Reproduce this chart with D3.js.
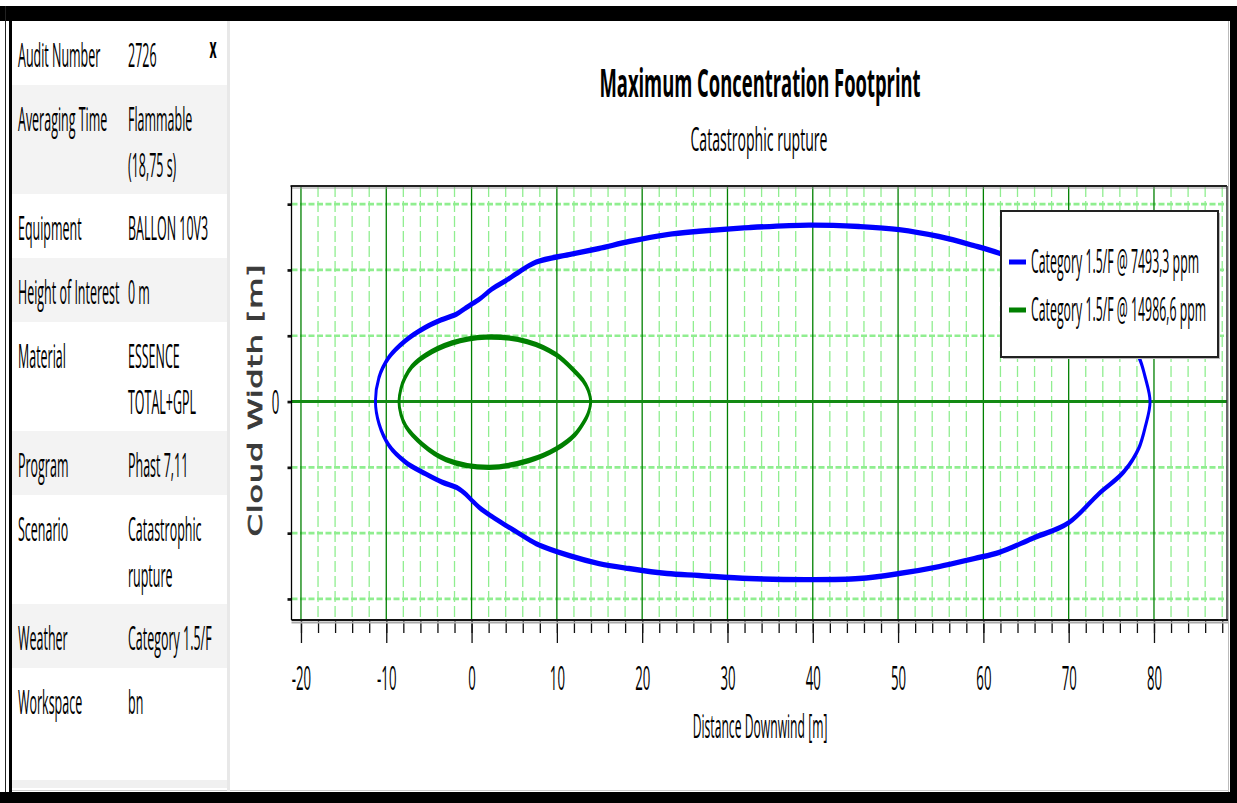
<!DOCTYPE html>
<html>
<head>
<meta charset="utf-8">
<script src="https://cdn.jsdelivr.net/npm/d3@7"></script>
<style>
  html, body { margin: 0; padding: 0; background: #fff; }
  svg { display: block; }
</style>
</head>
<body>
<svg id="chart" width="1237" height="803"></svg>
<script>
// ---- info panel ----
const panelLabels = ["Audit Number", "Averaging Time", "Equipment", "Height of Interest",
                     "Material", "Program", "Scenario", "Weather", "Workspace"];
const panelValues = [["2726"], ["Flammable", "(18,75 s)"], ["BALLON 10V3"], ["0 m"],
                     ["ESSENCE", "TOTAL+GPL"], ["Phast 7,11"], ["Catastrophic", "rupture"],
                     ["Category 1.5/F"], ["bn"]];

// ---- chart texts ----
const chartTitle = "Maximum Concentration Footprint";
const chartSubtitle = "Catastrophic rupture";
const xTitle = "Distance Downwind [m]";
const yTitle = "Cloud Width [m]";
const seriesNames = ["Category 1.5/F @ 7493,3 ppm", "Category 1.5/F @ 14986,6 ppm"];
const seriesColors = ["#0000ff", "#008000"];

// ---- ticks ----
const xMajorTicks = [-20, -10, 0, 10, 20, 30, 40, 50, 60, 70, 80];
const xMinorTicks = d3.range(-20, 89, 2);
const yTicks = [-15, -10, -5, 0, 5, 10, 15];

// ---- footprint 7493,3 ppm: downwind distance, upper and lower cloud edge [m] ----
const blueX = [-11.27, -10.86, -9.68, -7.73, -5.46, -3.47, -1.71, -0.77, 0.05, 0.87,
               2.39, 4.03, 5.21, 7.55, 11.42, 14.94, 18.45, 22.91, 26.66, 32.52,
               39.55, 45.41, 50.11, 54.80, 58.90, 61.83, 65.70, 70.04, 73.56, 76.49,
               78.25, 78.97, 79.54];
const blueUpper = [0, 1.82, 3.37, 4.64, 5.62, 6.23, 6.66, 7.07, 7.42, 7.75,
                   8.56, 9.19, 9.70, 10.59, 11.17, 11.63, 12.16, 12.69, 12.94, 13.22,
                   13.41, 13.30, 13.07, 12.54, 11.85, 11.28, 10.26, 9.04, 6.84, 5.02,
                   3.35, 1.85, 0];
const blueLower = [0, -1.67, -3.34, -4.61, -5.47, -6.12, -6.54, -6.99, -7.52, -8.03,
                   -8.74, -9.42, -9.88, -10.79, -11.70, -12.31, -12.69, -13.07, -13.22, -13.45,
                   -13.53, -13.45, -13.07, -12.54, -11.93, -11.47, -10.41, -9.19, -6.99, -5.32,
                   -3.50, -1.95, 0];

// ---- footprint 14986,6 ppm: outline points, clockwise from the upwind tip [m] ----
const greenX = [-8.51, -8.28, -7.81, -6.99, -5.35, -2.30, 1.69, 6.49, 9.89, 12.12,
                13.06, 13.65, 13.96, 13.65, 13.06, 12.12, 9.89, 6.73, 2.04, -3.00,
                -5.81, -7.69, -8.28];
const greenY = [0, 0.99, 1.82, 2.66, 3.53, 4.45, 4.90, 4.56, 3.57, 2.28,
                1.60, 0.91, 0, -0.95, -1.67, -2.51, -3.61, -4.48, -5.00, -4.41,
                -3.23, -1.90, -0.99];

// ---- look ----
const FONT = '"Open Sans", "Noto Sans", sans-serif';
const SX = 0.39;          // narrow text rendering
const STRETCH = 1.85;     // curve pen is taller than it is wide

const svg = d3.select("#chart");
const W = 1237, H = 803;

function label(parent, str, x, y, size, opts = {}) {
  return parent.append("text")
    .attr("transform", `translate(${x},${y}) scale(${opts.sx || SX},1)`)
    .attr("text-anchor", opts.anchor || "start")
    .attr("font-family", FONT)
    .attr("font-size", size)
    .attr("font-weight", opts.weight || "normal")
    .attr("fill", opts.fill || "#000")
    .text(str);
}

// ---- window frame ----
svg.append("rect").attr("width", W).attr("height", H).attr("fill", "#fff");
svg.append("rect").attr("x", 0).attr("y", 6).attr("width", W).attr("height", 15).attr("fill", "#000");
svg.append("rect").attr("x", 9).attr("y", 6).attr("width", 3).attr("height", H - 6).attr("fill", "#000");
svg.append("line").attr("x1", 5.5).attr("x2", 5.5).attr("y1", 6).attr("y2", H).attr("stroke", "#222");
svg.append("rect").attr("x", 0).attr("y", 792).attr("width", W).attr("height", 11).attr("fill", "#000");
svg.append("rect").attr("x", 1230).attr("y", 6).attr("width", 7).attr("height", H - 6).attr("fill", "#000");
svg.append("line").attr("x1", 1228.5).attr("x2", 1228.5).attr("y1", 21).attr("y2", 792).attr("stroke", "#bbb");
svg.append("line").attr("x1", 12).attr("x2", 1229).attr("y1", 790.5).attr("y2", 790.5).attr("stroke", "#ccc");

// ---- info panel ----
const panel = svg.append("g");
const panelLeft = 12, panelRight = 227, panelTop = 21, panelBottom = 788;
let rowTop = panelTop;
panelLabels.forEach((lab, i) => {
  const lines = panelValues[i];
  const last = i === panelLabels.length - 1;
  const h = last ? 780 - rowTop : 19 + 45 * lines.length;
  panel.append("rect").attr("x", panelLeft).attr("y", rowTop)
    .attr("width", panelRight - panelLeft).attr("height", h)
    .attr("fill", i % 2 === 1 ? "#f3f3f3" : "#fff");
  label(panel, lab, 18, rowTop + 46, 32);
  lines.forEach((ln, j) => label(panel, ln, 128, rowTop + 46 + 46 * j, 32));
  rowTop += h;
});
panel.append("rect").attr("x", panelLeft).attr("y", 780).attr("width", panelRight - panelLeft)
  .attr("height", panelBottom - 780).attr("fill", "#f0f0f0");
panel.append("rect").attr("x", 227).attr("y", 21).attr("width", 3).attr("height", 770).attr("fill", "#e8e8e8");
label(panel, "x", 213, 58, 28, { anchor: "middle", weight: "bold", sx: 0.44 });

// ---- plot ----
const plot = { left: 291.5, right: 1227, top: 186, bottom: 620 };
const x = d3.scaleLinear().domain([-21.11, 88.56]).range([plot.left, plot.right]);
const y = d3.scaleLinear().domain([-16.6, 16.38]).range([plot.bottom, plot.top]);

label(svg, chartTitle, 760, 97, 40, { anchor: "middle", weight: "bold", sx: 0.46 });
label(svg, chartSubtitle, 759, 151, 32, { anchor: "middle", sx: 0.44 });
label(svg, xTitle, 760, 738, 32, { anchor: "middle", sx: 0.38 });

svg.append("text")
  .attr("transform", `translate(255,400) rotate(-90) scale(1.6,1)`)
  .attr("text-anchor", "middle").attr("dy", "0.36em")
  .attr("font-family", '"DejaVu Sans", sans-serif').attr("font-size", 20)
  .attr("fill", "#3a3a3a").attr("stroke", "#3a3a3a").attr("stroke-width", 0.7)
  .attr("letter-spacing", 0.5)
  .text(yTitle);

// grid
const grid = svg.append("g");
grid.selectAll("line.vminor")
  .data(xMinorTicks.filter(v => v % 10 !== 0))
  .join("line").attr("class", "vminor")
  .attr("x1", d => x(d)).attr("x2", d => x(d))
  .attr("y1", plot.top).attr("y2", plot.bottom)
  .attr("stroke", "#90ee90").attr("stroke-width", 1.3).attr("stroke-dasharray", "11,4");
grid.selectAll("line.hminor")
  .data(yTicks.filter(v => v !== 0))
  .join("line").attr("class", "hminor")
  .attr("x1", plot.left).attr("x2", plot.right)
  .attr("y1", d => y(d)).attr("y2", d => y(d))
  .attr("stroke", "#90ee90").attr("stroke-width", 2.7).attr("stroke-dasharray", "6,2.5");
grid.selectAll("line.vmajor")
  .data(xMajorTicks)
  .join("line").attr("class", "vmajor")
  .attr("x1", d => x(d)).attr("x2", d => x(d))
  .attr("y1", plot.top).attr("y2", plot.bottom)
  .attr("stroke", "#008000").attr("stroke-width", 1.3);
grid.append("line")
  .attr("x1", plot.left).attr("x2", plot.right)
  .attr("y1", y(0)).attr("y2", y(0))
  .attr("stroke", "#138a13").attr("stroke-width", 3);

// footprint contours
svg.append("clipPath").attr("id", "plotClip")
  .append("rect").attr("x", plot.left).attr("y", plot.top)
  .attr("width", plot.right - plot.left).attr("height", plot.bottom - plot.top);

const y0 = y(0);
const yC = d3.scaleLinear().domain(y.domain()).range(y.range().map(v => (v - y0) / STRETCH));
const contour = d3.line().x(d => x(d[0])).y(d => yC(d[1])).curve(d3.curveCatmullRomClosed.alpha(0.5));

function outline(xs, up, lo) {
  const pts = xs.map((v, i) => [v, up[i]]);
  for (let i = xs.length - 2; i >= 1; i--) pts.push([xs[i], lo[i]]);
  return pts;
}

const curves = svg.append("g").attr("clip-path", "url(#plotClip)")
  .append("g").attr("transform", `translate(0,${y0}) scale(1,${STRETCH})`);
curves.append("path").datum(outline(blueX, blueUpper, blueLower))
  .attr("d", contour).attr("fill", "none")
  .attr("stroke", seriesColors[0]).attr("stroke-width", 2.9);
curves.append("path").datum(greenX.map((v, i) => [v, greenY[i]]))
  .attr("d", contour).attr("fill", "none")
  .attr("stroke", seriesColors[1]).attr("stroke-width", 2.9);

// axes
const xMinorAxis = svg.append("g").attr("transform", `translate(0,${plot.bottom})`)
  .call(d3.axisBottom(x).tickValues(xMinorTicks).tickSize(13).tickFormat(""));
xMinorAxis.select(".domain").remove();
xMinorAxis.selectAll("line").attr("stroke", "#111").attr("stroke-width", 1.3);

const xAxis = svg.append("g").attr("transform", `translate(0,${plot.bottom})`)
  .call(d3.axisBottom(x).tickValues(xMajorTicks).tickSize(23).tickFormat(d3.format("d")));
xAxis.select(".domain").remove();
xAxis.selectAll("line").attr("stroke", "#111").attr("stroke-width", 1.3);
xAxis.attr("font-family", FONT).attr("font-size", 33);
xAxis.selectAll("text")
  .attr("y", null).attr("dy", null).attr("fill", "#000")
  .attr("transform", `translate(0,70) scale(0.4,1)`)
  .text(d => (d < 0 ? "-" : "") + Math.abs(d));

const yAxis = svg.append("g").attr("transform", `translate(${plot.left},0)`)
  .call(d3.axisLeft(y).tickValues(yTicks).tickSize(4).tickFormat(d => d === 0 ? "0" : ""));
yAxis.select(".domain").remove();
yAxis.selectAll("line").attr("stroke", "#111").attr("stroke-width", 2.7);
yAxis.attr("font-family", FONT).attr("font-size", 33);
yAxis.selectAll("text")
  .attr("x", null).attr("dy", null).attr("text-anchor", "middle").attr("fill", "#000")
  .attr("transform", `translate(-16,12) scale(0.4,1)`);

// plot frame
svg.append("line").attr("x1", plot.left).attr("x2", plot.right).attr("y1", plot.top + 2).attr("y2", plot.top + 2)
  .attr("stroke", "#999").attr("stroke-width", 1);
svg.append("line").attr("x1", plot.left - 1).attr("x2", plot.right).attr("y1", plot.top).attr("y2", plot.top)
  .attr("stroke", "#222").attr("stroke-width", 2);
svg.append("line").attr("x1", plot.left).attr("x2", plot.left).attr("y1", plot.top).attr("y2", plot.bottom)
  .attr("stroke", "#000").attr("stroke-width", 1.3);
svg.append("line").attr("x1", plot.right).attr("x2", plot.right).attr("y1", plot.top).attr("y2", plot.bottom)
  .attr("stroke", "#333").attr("stroke-width", 1.5);
svg.append("line").attr("x1", plot.left).attr("x2", plot.right + 1).attr("y1", plot.bottom + 2.5).attr("y2", plot.bottom + 2.5)
  .attr("stroke", "#aaa").attr("stroke-width", 2);
svg.append("line").attr("x1", plot.left).attr("x2", plot.right + 1).attr("y1", plot.bottom).attr("y2", plot.bottom)
  .attr("stroke", "#111").attr("stroke-width", 2.2);

// legend
const lg = { x: plot.right - 226, y: plot.top + 25, w: 217, h: 146 };
const legend = svg.append("g").attr("transform", `translate(${lg.x},${lg.y})`);
legend.append("rect").attr("x", 2).attr("y", 2).attr("width", lg.w).attr("height", lg.h).attr("fill", "#bbb");
legend.append("rect").attr("width", lg.w).attr("height", lg.h)
  .attr("fill", "#fff").attr("stroke", "#222").attr("stroke-width", 2);
seriesNames.forEach((name, i) => {
  const cy = 51 + 48 * i;
  legend.append("rect").attr("x", 8).attr("y", cy - 2.5).attr("width", 17).attr("height", 5)
    .attr("fill", seriesColors[i]);
  label(legend, name, 30, cy + 11, 32, { sx: 0.385 });
});
</script>
</body>
</html>
